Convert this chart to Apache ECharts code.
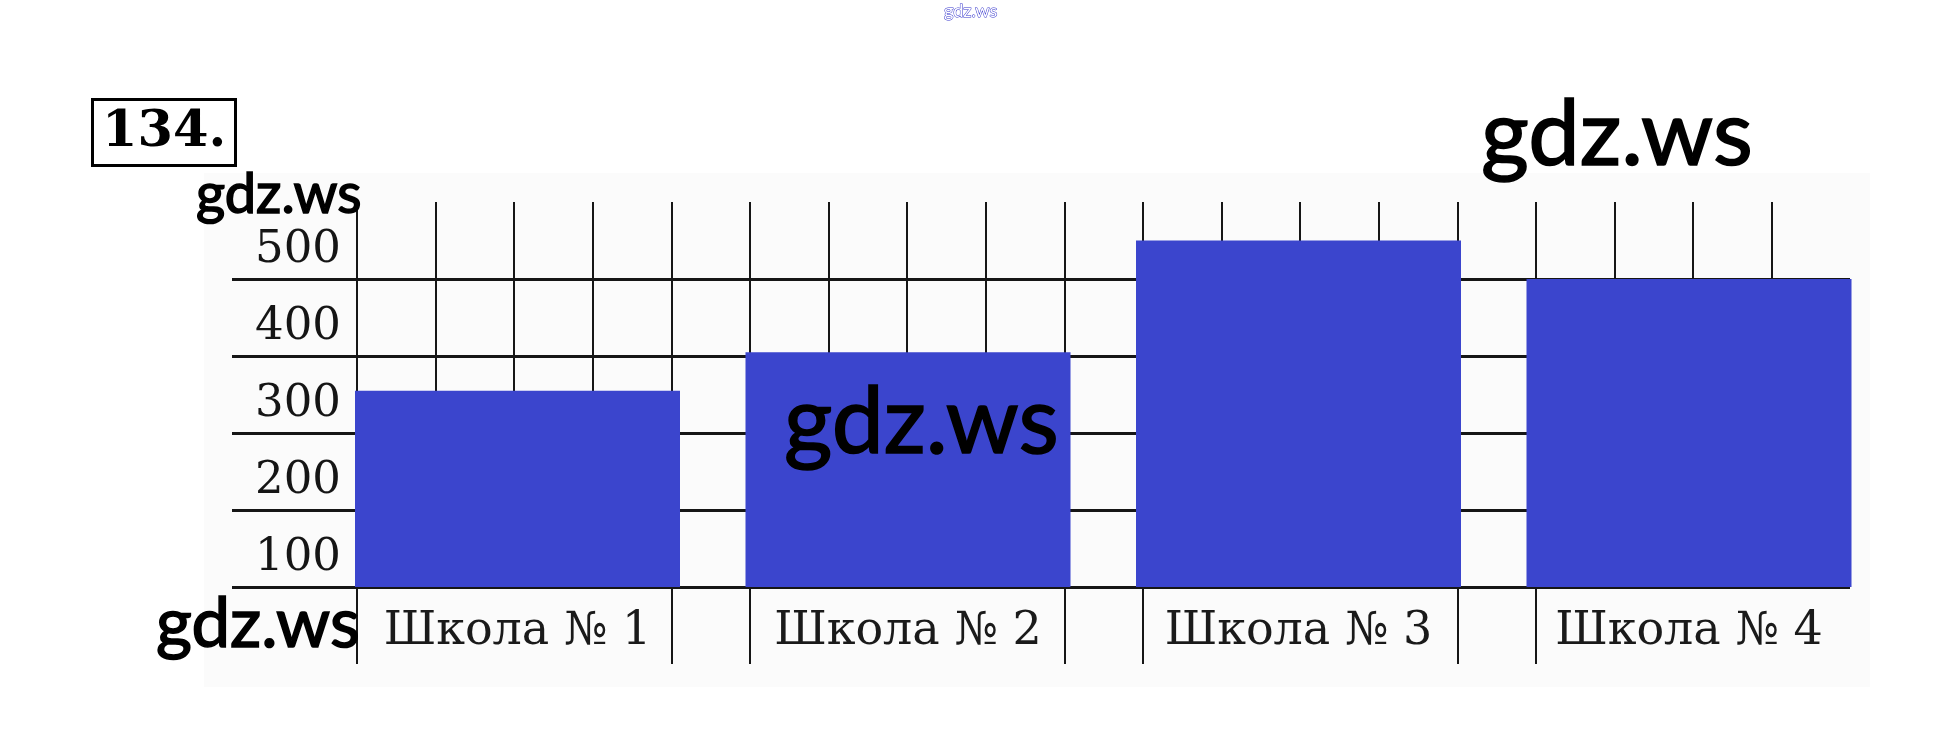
<!DOCTYPE html>
<html><head><meta charset="utf-8">
<script src="https://cdn.jsdelivr.net/npm/echarts@6/dist/echarts.min.js"></script>
<style>html,body{margin:0;padding:0;background:#fff}#c{width:1942px;height:753px}</style>
</head><body><div id="c"></div>
<script>
// ---- data ----
const categories = ['Школа № 1', 'Школа № 2', 'Школа № 3', 'Школа № 4'];
const values = [355, 405, 550, 500];
const yMin = 0, yMax = 600, yStep = 100;
const barBase = 100;
const cellCount = 18;
const separators = [0, 4, 5, 9, 10, 14, 15];
const problemNumber = '134.';
const watermark = 'gdz.ws';

// ---- layout ----
const CELL = 78.6, X0 = 357, Y_TOP = 202, UNIT = 77;
const BAND = 390.5, BAR_W = 325, BAR_C0 = 517.5;
const topH = (yMax - barBase) / yStep * UNIT;
const serif = 'DejaVu Serif';
const lineCol = '#161616';
const wm = (size) => ({ fontFamily: 'Lato', fontWeight: 'normal', fontSize: size, color: '#000',
  textBorderColor: '#000', textBorderWidth: 1.6 });

const hidden = { show: false };
function hiddenVal(gi, min, max) {
  return { gridIndex: gi, type: 'value', min: min, max: max, show: false, splitLine: hidden };
}

const chart = echarts.init(document.getElementById('c'), null, { renderer: 'canvas' });
chart.setOption({
  animation: false,
  backgroundColor: '#ffffff',
  graphic: [{ type: 'rect', shape: { x: 204, y: 173, width: 1666, height: 514 }, style: { fill: '#fbfbfb' }, z: -10 }],
  title: [
    { text: problemNumber, left: 92, top: 99, padding: [6, 10, 6, 10], borderColor: '#000', borderWidth: 3,
      textStyle: { fontFamily: serif, fontWeight: 'bold', fontSize: 51, lineHeight: 55, color: '#000' } },
    { text: watermark, left: 1481, top: 89, padding: 0, textStyle: wm(92) },
    { text: watermark, left: 196, top: 167, padding: 0, textStyle: wm(56) },
    { text: watermark, left: 784, top: 376, padding: 0, textStyle: wm(93) },
    { text: watermark, left: 156, top: 590, padding: 0, textStyle: wm(69) },
    { text: watermark, left: 944, top: 2, padding: 0,
      textStyle: { fontFamily: 'Lato', fontWeight: 'normal', fontSize: 18, color: '#ffffff', textBorderColor: '#3333cc', textBorderWidth: 1 } }
  ],
  grid: [
    { left: X0, top: Y_TOP, width: CELL * cellCount, height: topH },                  // 0: cell lines
    { left: 232, top: Y_TOP, width: 1850 - 232, height: (yMax - yMin) / yStep * UNIT },  // 1: horizontal lines + y labels
    { left: BAR_C0 - BAND / 2, top: Y_TOP, width: BAND * categories.length, height: topH }, // 2: bars
    { left: X0, top: Y_TOP + topH, width: CELL * cellCount, height: UNIT }            // 3: separators
  ],
  xAxis: [
    { gridIndex: 0, type: 'value', min: 0, max: cellCount, interval: 1,
      axisLine: hidden, axisTick: hidden, axisLabel: hidden,
      splitLine: { show: true, lineStyle: { color: lineCol, width: 2 } } },
    hiddenVal(1, 0, 1),
    { gridIndex: 2, type: 'category', data: categories,
      axisLine: hidden, axisTick: hidden, splitLine: hidden,
      axisLabel: { interval: 0, margin: 45, verticalAlign: 'middle', fontFamily: serif, fontSize: 46, color: '#1a1a1a' } },
    hiddenVal(3, 0, cellCount)
  ],
  yAxis: [
    hiddenVal(0, 0, 1),
    { gridIndex: 1, type: 'value', min: yMin, max: yMax, interval: yStep,
      axisLine: hidden, axisTick: hidden,
      splitLine: { show: true, showMinLine: false, showMaxLine: false, lineStyle: { color: lineCol, width: 3 } },
      axisLabel: { inside: true, margin: 23, showMinLabel: false, showMaxLabel: false,
        verticalAlign: 'bottom', padding: [0, 0, 6, 0], fontFamily: serif, fontSize: 45, color: '#151515' } },
    { gridIndex: 2, type: 'value', min: barBase, max: yMax, show: false, splitLine: hidden },
    hiddenVal(3, 0, 1)
  ],
  series: [
    { type: 'bar', xAxisIndex: 2, yAxisIndex: 2, data: values, barWidth: BAR_W,
      itemStyle: { color: '#3b45cd' } },
    { type: 'scatter', xAxisIndex: 3, yAxisIndex: 3, symbolSize: 0, silent: true,
      data: separators.map(k => [k, 0]),
      markLine: { symbol: 'none', silent: true, label: hidden,
        lineStyle: { color: lineCol, width: 2, type: 'solid' },
        data: separators.map(k => [{ coord: [k, 0] }, { coord: [k, 1] }]) } }
  ]
});
</script></body></html>
